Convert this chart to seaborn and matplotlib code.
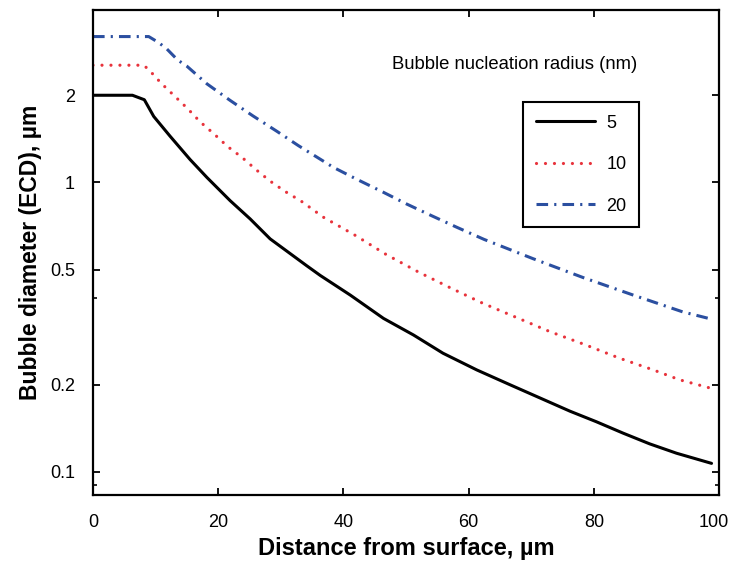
import pandas as pd
import matplotlib
matplotlib.use("Agg")
import matplotlib.pyplot as plt
import matplotlib.transforms as mtransforms
import seaborn as sns
from matplotlib.ticker import FixedLocator, NullFormatter

# Bubble nucleation radius 5 nm
x_r5 = [0, 6.3, 8.2, 9.7, 12.3, 15.5, 18.2, 21.9, 25.1, 28.3, 34.1, 36.3, 41.1, 46.4,
        51.2, 55.9, 61.3, 66.6, 71.4, 76.2, 80.4, 84.7, 88.9, 93.2, 98.8]
d_r5 = [2.0, 2.0, 1.93, 1.69, 1.445, 1.20, 1.04, 0.865, 0.748, 0.638, 0.516, 0.477, 0.408,
        0.339, 0.297, 0.257, 0.225, 0.200, 0.180, 0.162, 0.149, 0.136, 0.125, 0.116, 0.107]

# Bubble nucleation radius 10 nm
x_r10 = [0, 8.1, 9.0, 10.9, 13.0, 15.1, 17.1, 19.4, 21.5, 23.8, 26.1, 28.3, 30.7, 33.3,
         36.8, 41.9, 46.8, 52.0, 57.3, 62.3, 67.7, 73.0, 78.6, 84.1, 89.5, 93.7, 98.5]
d_r10 = [2.54, 2.54, 2.44, 2.20, 1.99, 1.80, 1.62, 1.466, 1.33, 1.22, 1.104, 1.01, 0.93,
         0.86, 0.758, 0.656, 0.564, 0.49, 0.43, 0.382, 0.341, 0.305, 0.275, 0.247, 0.225,
         0.208, 0.195]

# Bubble nucleation radius 20 nm
x_r20 = [0, 8.9, 10.5, 11.8, 13.5, 15.0, 18.2, 21.9, 25.5, 29.4, 32.8, 38.4, 42.1, 46.4,
         50.1, 54.1, 58.1, 62.5, 70.3, 78.3, 86.3, 94.2, 98.8]
d_r20 = [3.19, 3.19, 3.04, 2.89, 2.65, 2.52, 2.19, 1.92, 1.70, 1.50, 1.34, 1.127, 1.026,
         0.924, 0.842, 0.767, 0.70, 0.635, 0.545, 0.469, 0.408, 0.357, 0.337]

radius_labels = ["5", "10", "20"]
y_ticks = [0.1, 0.2, 0.5, 1, 2]
y_tick_labels = ["0.1", "0.2", "0.5", "1", "2"]
x_ticks = [0, 20, 40, 60, 80, 100]

sns.set_style("ticks")
plt.rcParams["font.family"] = ["Liberation Sans", "DejaVu Sans"]
plt.rcParams["text.color"] = "black"

fig = plt.figure(figsize=(7.3, 5.63), dpi=100)
ax = fig.add_axes([0.1274, 0.1208, 0.8576, 0.8614])

series = [
    (x_r5, d_r5, dict(color="black", lw=2.2, ls="-")),
    (x_r10, d_r10, dict(color="#e8333c", lw=2.3, dashes=(0.01, 2.8), dash_capstyle="round")),
    (x_r20, d_r20, dict(color="#2b4fa0", lw=2.2, dashes=(3.8, 2.0, 0.7, 2.0))),
]
for (xs, ds, style), lab in zip(series, radius_labels):
    df = pd.DataFrame({"x": xs, "d": ds})
    sns.lineplot(data=df, x="x", y="d", ax=ax, label=lab, **style)

ax.set_yscale("log")
ax.set_xlim(0, 100)
ax.set_ylim(0.0832, 3.94)
ax.set_xticks(x_ticks)
ax.set_xticklabels([str(t) for t in x_ticks])
ax.set_yticks(y_ticks)
ax.set_yticklabels(y_tick_labels)
ax.yaxis.set_minor_locator(FixedLocator([0.09, 0.4]))
ax.yaxis.set_minor_formatter(NullFormatter())

ax.tick_params(axis="both", which="major", direction="in", length=5, width=1.3,
               top=True, right=True, labelsize=13, colors="black")
ax.tick_params(axis="x", which="major", pad=14)
ax.tick_params(axis="y", which="major", pad=13)
ax.tick_params(axis="y", which="minor", direction="in", length=3, width=1.2, right=True,
               colors="black")
for sp in ax.spines.values():
    sp.set_visible(True)
    sp.set_linewidth(1.6)
    sp.set_color("black")

# the last x label sits a little left of its tick, as in the original
last = ax.get_xticklabels()[-1]
last.set_transform(last.get_transform() + mtransforms.ScaledTranslation(-5 / 100, 0, fig.dpi_scale_trans))

ax.set_xlabel("Distance from surface, µm", fontsize=17, fontweight="bold", labelpad=4,
              color="black")
ax.set_ylabel("Bubble diameter (ECD), µm", fontsize=16.5, fontweight="bold", labelpad=6,
              color="black")

ax.text(0.478, 0.887, "Bubble nucleation radius (nm)", transform=ax.transAxes,
        fontsize=13.3, ha="left", va="center", color="black")

leg = ax.legend(loc="upper left", bbox_to_anchor=(0.687, 0.81), fontsize=13,
                frameon=True, fancybox=False, framealpha=1, edgecolor="black",
                handlelength=3.3, labelspacing=1.35, borderpad=0.7, handletextpad=0.6,
                borderaxespad=0)
leg.get_frame().set_linewidth(1.5)
for t in leg.get_texts():
    t.set_color("black")

fig.savefig("out.png", dpi=100)
